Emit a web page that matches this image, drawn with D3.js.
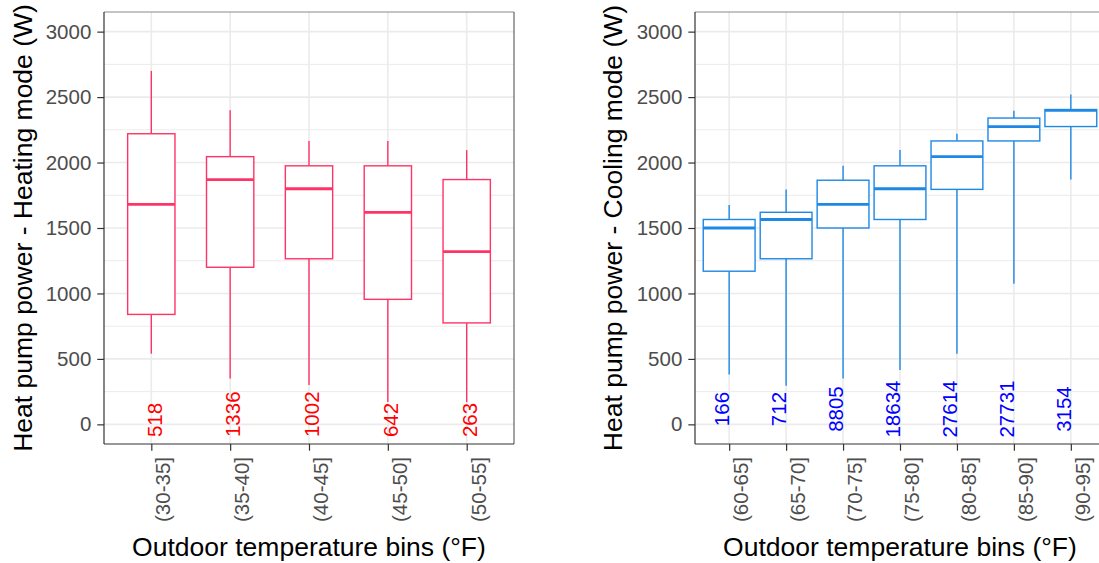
<!DOCTYPE html>
<html><head><meta charset="utf-8">
<script src="https://cdn.jsdelivr.net/npm/d3@7"></script>
<style>
html,body{margin:0;padding:0;background:#fff;}
svg{display:block;font-family:"Liberation Sans",Arial,Helvetica,sans-serif;}
</style></head>
<body>
<svg id="chart" width="1099" height="563"></svg>
<script>
// ---- data ----
const heatBins = ["(30-35]","(35-40]","(40-45]","(45-50]","(50-55]"];
const heatLow  = [540, 350, 300, 170, 170];
const heatQ1   = [840, 1200, 1265, 955, 775];
const heatMed  = [1680, 1870, 1800, 1620, 1320];
const heatQ3   = [2220, 2045, 1975, 1975, 1870];
const heatHigh = [2700, 2400, 2165, 2165, 2095];
const heatN    = [518, 1336, 1002, 642, 263];

const coolBins = ["(60-65]","(65-70]","(70-75]","(75-80]","(80-85]","(85-90]","(90-95]"];
const coolLow  = [380, 295, 350, 415, 540, 1075, 1870];
const coolQ1   = [1170, 1265, 1500, 1565, 1795, 2165, 2275];
const coolMed  = [1500, 1565, 1680, 1800, 2045, 2275, 2398];
const coolQ3   = [1565, 1620, 1865, 1975, 2165, 2340, 2405];
const coolHigh = [1675, 1795, 1975, 2095, 2220, 2395, 2520];
const coolN    = [166, 712, 8805, 18634, 27614, 27731, 3154];

const yMajor = [0, 500, 1000, 1500, 2000, 2500, 3000];
const yMinor = [250, 750, 1250, 1750, 2250, 2750];
const yTitleHeat = "Heat pump power - Heating mode (W)";
const yTitleCool = "Heat pump power - Cooling mode (W)";
const xTitle = "Outdoor temperature bins (°F)";

const svg = d3.select("#chart");
const pTop = 12, pBottom = 444;
const FONT = "Liberation Sans, Arial, sans-serif";

function panel(opt){
  const {x0, x1, bins, low, q1, med, q3, high, n, boxColor, labelColor, boxFrac, yTitle, labelMode} = opt;
  const x = d3.scalePoint().domain(bins).range([x0, x1]).padding(0.6);
  const step = x.step();
  const y = d3.scaleLinear().domain([-150, 3150]).range([pBottom, pTop]);
  const g = svg.append("g");

  // grid
  g.selectAll(".gmin").data(yMinor).join("line")
    .attr("x1", x0).attr("x2", x1).attr("y1", d=>y(d)).attr("y2", d=>y(d))
    .attr("stroke", "#EBEBEB").attr("stroke-width", 1);
  g.selectAll(".gmaj").data(yMajor).join("line")
    .attr("x1", x0).attr("x2", x1).attr("y1", d=>y(d)).attr("y2", d=>y(d))
    .attr("stroke", "#EBEBEB").attr("stroke-width", 1.6);
  g.selectAll(".gx").data(bins).join("line")
    .attr("x1", d=>x(d)).attr("x2", d=>x(d)).attr("y1", pTop).attr("y2", pBottom)
    .attr("stroke", "#EBEBEB").attr("stroke-width", 1.6);

  const bw = step * boxFrac;
  const idx = d3.range(bins.length);
  // whiskers
  g.selectAll(".wu").data(idx).join("line")
    .attr("x1", i=>x(bins[i])).attr("x2", i=>x(bins[i]))
    .attr("y1", i=>y(q3[i])).attr("y2", i=>y(high[i]))
    .attr("stroke", boxColor).attr("stroke-width", 1.4);
  g.selectAll(".wl").data(idx).join("line")
    .attr("x1", i=>x(bins[i])).attr("x2", i=>x(bins[i]))
    .attr("y1", i=>y(q1[i])).attr("y2", i=>y(low[i]))
    .attr("stroke", boxColor).attr("stroke-width", 1.4);
  // boxes
  g.selectAll(".bx").data(idx).join("rect")
    .attr("x", i=>x(bins[i]) - bw/2).attr("width", bw)
    .attr("y", i=>y(q3[i])).attr("height", i=>y(q1[i]) - y(q3[i]))
    .attr("fill", "#fff").attr("stroke", boxColor).attr("stroke-width", 1.4);
  g.selectAll(".md").data(idx).join("line")
    .attr("x1", i=>x(bins[i]) - bw/2).attr("x2", i=>x(bins[i]) + bw/2)
    .attr("y1", i=>y(med[i])).attr("y2", i=>y(med[i]))
    .attr("stroke", boxColor).attr("stroke-width", 2.8);

  // count labels
  g.selectAll(".cnt").data(idx).join("text")
    .attr("transform", i=> labelMode === "heat"
        ? `translate(${x(bins[i])},${y(-97)}) rotate(-90)`
        : `translate(${x(bins[i])},${y(117)}) rotate(-90)`)
    .attr("text-anchor", labelMode === "heat" ? "start" : "middle")
    .attr("dy", labelMode === "heat" ? "0.5em" : "0")
    .attr("font-family", FONT)
    .attr("font-size", 20.5).attr("fill", labelColor)
    .text(i=>n[i]);

  // panel border
  g.append("line").attr("x1", x0).attr("x2", x1).attr("y1", pTop).attr("y2", pTop)
    .attr("stroke", "#8a8a8a").attr("stroke-width", 1.2);
  g.append("line").attr("x1", x1).attr("x2", x1).attr("y1", pTop).attr("y2", pBottom)
    .attr("stroke", "#666").attr("stroke-width", 1.2);

  // axes
  const ya = d3.axisLeft(y).tickValues(yMajor).tickFormat(d3.format("d"))
    .tickSize(6.7).tickPadding(6).tickSizeOuter(0);
  const yg = g.append("g").attr("transform", `translate(${x0},0)`).call(ya);
  yg.attr("font-family", FONT);
  yg.select(".domain").attr("stroke", "#333").attr("stroke-width", 1.2).attr("d", `M0,${pTop}V${pBottom}`);
  yg.selectAll(".tick line").attr("stroke", "#333").attr("stroke-width", 1.2);
  yg.selectAll(".tick text").attr("font-size", 20.5).attr("fill", "#4D4D4D");

  const xa = d3.axisBottom(x).tickSize(6.7).tickSizeOuter(0);
  const xg = g.append("g").attr("transform", `translate(0,${pBottom})`).call(xa);
  xg.attr("font-family", FONT);
  xg.select(".domain").attr("stroke", "#333").attr("stroke-width", 1.2).attr("d", `M${x0},0H${x1}`);
  xg.selectAll(".tick line").attr("stroke", "#333").attr("stroke-width", 1.2);
  xg.selectAll(".tick text").attr("font-size", 20.5).attr("fill", "#4D4D4D")
    .attr("text-anchor", "end").attr("transform", "rotate(-90)")
    .attr("x", -13).attr("y", 0).attr("dy", "0.9em");

  // titles
  g.append("text").attr("x", (x0 + x1)/2).attr("y", 556)
    .attr("text-anchor", "middle").attr("font-size", 26.5).attr("font-family", FONT)
    .attr("fill", "#000").text(xTitle);
  g.append("text").attr("transform", `translate(${opt.yTitleX},${(pTop+pBottom)/2}) rotate(-90)`)
    .attr("text-anchor", "middle").attr("font-size", 26.5).attr("font-family", FONT)
    .attr("fill", "#000").text(yTitle);
}

panel({x0:104, x1:514, bins:heatBins, low:heatLow, q1:heatQ1, med:heatMed, q3:heatQ3, high:heatHigh, n:heatN,
  boxColor:"#FF3366", labelColor:"#FF0000", boxFrac:0.6, yTitle:yTitleHeat, yTitleX:31.6, labelMode:"heat"});
panel({x0:695, x1:1105, bins:coolBins, low:coolLow, q1:coolQ1, med:coolMed, q3:coolQ3, high:coolHigh, n:coolN,
  boxColor:"#1E88E5", labelColor:"#0000FF", boxFrac:0.91, yTitle:yTitleCool, yTitleX:621.8, labelMode:"cool"});
</script>
</body></html>
